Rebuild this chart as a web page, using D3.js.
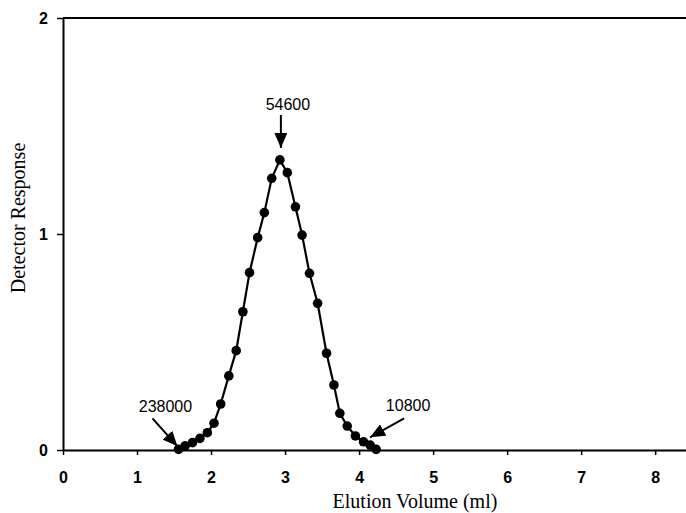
<!DOCTYPE html>
<html>
<head>
<meta charset="utf-8">
<script src="https://cdn.jsdelivr.net/npm/d3@7"></script>
<style>
  html, body { margin: 0; padding: 0; background: #fff; }
  .tick text { font-family: Arial, "Liberation Sans", sans-serif; font-weight: bold; font-size: 16px; fill: #000; }
  .axis-title { font-family: "Times New Roman", "Liberation Serif", serif; font-size: 20px; fill: #000; }
  .note { font-family: Arial, "Liberation Sans", sans-serif; font-size: 16px; fill: #000; }
</style>
</head>
<body>
<div id="chart"></div>
<script>
// Elution profile — detector response vs elution volume
const volume = [1.56, 1.65, 1.75, 1.85, 1.95, 2.04, 2.13, 2.24, 2.34, 2.43, 2.52, 2.63, 2.72, 2.82,
                2.93, 3.03, 3.14, 3.23, 3.33, 3.44, 3.56, 3.66, 3.74, 3.84, 3.95, 4.06, 4.15, 4.23];
const response = [0.003, 0.019, 0.034, 0.054, 0.080, 0.124, 0.213, 0.343, 0.460, 0.640, 0.821, 0.983, 1.099, 1.258,
                  1.343, 1.284, 1.126, 0.995, 0.818, 0.679, 0.448, 0.301, 0.170, 0.111, 0.065, 0.038, 0.023, 0.003];
const xTicks = [0, 1, 2, 3, 4, 5, 6, 7, 8];
const yTicks = [0, 1, 2];
// molecular weight labels at start, peak and end of the profile
const notes = [
  { label: "238000", at: 0 },
  { label: "54600", at: 14 },
  { label: "10800", at: 27 }
];

const W = 686, H = 513;
const margin = { top: 18, right: 0, bottom: 63, left: 63 };

const svg = d3.select("#chart").append("svg")
  .attr("width", W).attr("height", H);

const x = d3.scaleLinear().domain([0, 8.43]).range([margin.left, W - margin.right + 1]);
const y = d3.scaleLinear().domain([0, 2]).range([H - margin.bottom, margin.top]);

const data = volume.map((v, i) => ({ v, r: response[i] }));

// Axes
const xAxisG = svg.append("g")
  .attr("transform", `translate(0,${y(0)})`)
  .call(d3.axisBottom(x).tickValues(xTicks).tickFormat(d3.format("d"))
    .tickSizeInner(5).tickSizeOuter(0).tickPadding(17));
const yAxisG = svg.append("g")
  .attr("transform", `translate(${x(0)},0)`)
  .call(d3.axisLeft(y).tickValues(yTicks).tickFormat(d3.format("d"))
    .tickSizeInner(6).tickSizeOuter(0).tickPadding(9));

[xAxisG, yAxisG].forEach(g => {
  g.selectAll("path.domain").attr("stroke", "#000").attr("stroke-width", 2);
  g.selectAll(".tick line").attr("stroke", "#000").attr("stroke-width", 1.5);
});

// top frame line
svg.append("line")
  .attr("x1", x(0)).attr("x2", x.range()[1])
  .attr("y1", y(2)).attr("y2", y(2))
  .attr("stroke", "#000").attr("stroke-width", 2);

// Axis titles
svg.append("text")
  .attr("class", "axis-title")
  .attr("text-anchor", "middle")
  .attr("x", 415).attr("y", 508)
  .text("Elution Volume (ml)");

svg.append("text")
  .attr("class", "axis-title")
  .attr("text-anchor", "middle")
  .attr("transform", `translate(25,${(y(0) + y(2)) / 2 - 16}) rotate(-90)`)
  .text("Detector Response");

// Curve
svg.append("path")
  .datum(data)
  .attr("fill", "none")
  .attr("stroke", "#000")
  .attr("stroke-width", 2.2)
  .attr("d", d3.line().x(d => x(d.v)).y(d => y(d.r)));

svg.selectAll("circle.pt")
  .data(data)
  .join("circle")
  .attr("class", "pt")
  .attr("cx", d => x(d.v))
  .attr("cy", d => y(d.r))
  .attr("r", 4.8)
  .attr("fill", "#000");

// Arrow marker
svg.append("defs").append("marker")
  .attr("id", "head")
  .attr("markerUnits", "userSpaceOnUse")
  .attr("viewBox", "0 0 15 13")
  .attr("refX", 15).attr("refY", 6.5)
  .attr("markerWidth", 15).attr("markerHeight", 13)
  .attr("orient", "auto")
  .append("path")
  .attr("d", "M0,0 L15,6.5 L0,13 Z")
  .attr("fill", "#000");

// Annotations: offsets of text and arrow tail relative to the marked point
const layout = {
  "238000": { tx: -13, ty: -37, ax0: -26, ay0: -31, ax1: -1, ay1: -3 },
  "54600":  { tx: 8,   ty: -50, ax0: 1,   ay0: -45, ax1: 1,  ay1: -12 },
  "10800":  { tx: 32,  ty: -38, ax0: 28,  ay0: -31, ax1: -6, ay1: -12 }
};

notes.forEach(n => {
  const d = data[n.at];
  const px = x(d.v), py = y(d.r);
  const o = layout[n.label];
  svg.append("text")
    .attr("class", "note")
    .attr("text-anchor", "middle")
    .attr("x", px + o.tx).attr("y", py + o.ty)
    .text(n.label);
  svg.append("line")
    .attr("x1", px + o.ax0).attr("y1", py + o.ay0)
    .attr("x2", px + o.ax1).attr("y2", py + o.ay1)
    .attr("stroke", "#000").attr("stroke-width", 2)
    .attr("marker-end", "url(#head)");
});
</script>
</body>
</html>
